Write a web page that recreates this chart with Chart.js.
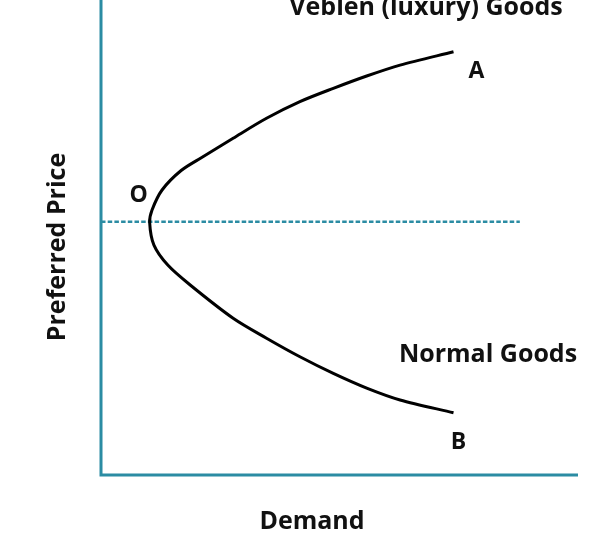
<!DOCTYPE html>
<html>
<head>
<meta charset="utf-8">
<script src="https://cdn.jsdelivr.net/npm/chart.js@4"></script>
<style>
  html, body { margin: 0; padding: 0; background: #fff; }
  #wrap { width: 600px; height: 536px; }
</style>
</head>
<body>
<div id="wrap"><canvas id="chart" width="600" height="536"></canvas></div>
<script>
/* Veblen vs normal goods: demand curve bending back at point O */

// curve from A (top) through O (vertex) down to B
const demandX = [7.39, 6.27, 5.57, 4.87, 4.17, 3.47, 2.77, 2.12, 1.68, 1.28, 1.07, 1.02,
                 1.11, 1.40, 1.87, 2.77, 3.47, 4.17, 4.87, 5.57, 6.27, 7.39];
const priceY  = [8.91, 8.63, 8.40, 8.14, 7.86, 7.51, 7.09, 6.69, 6.41, 6.00, 5.58, 5.32,
                 4.84, 4.42, 4.00, 3.30, 2.88, 2.49, 2.14, 1.83, 1.58, 1.31];

// reference price level through O
const refPrice = 5.33;
const refEndX = [0, 8.78];

const pointLabels = ['A', 'O', 'B'];
const regionLabels = ['Veblen (luxury) Goods', 'Normal Goods'];
const axisTitles = { x: 'Demand', y: 'Preferred Price' };

const colors = {
  axis:  '#2b8ca3',
  curve: '#000000',
  text:  '#111111'
};
const FONT = "bold 25px 'Open Sans', sans-serif";

const curveData = demandX.map((x, i) => ({ x, y: priceY[i] }));
const refData = refEndX.map(x => ({ x, y: refPrice }));
const vertexIdx = demandX.indexOf(Math.min(...demandX));

// axis lines + all the text labels
const decorPlugin = {
  id: 'decor',
  beforeDatasetsDraw(chart) {
    const { ctx, scales: { x, y } } = chart;
    const x0 = x.getPixelForValue(0);
    const y0 = y.getPixelForValue(0);
    ctx.save();
    ctx.strokeStyle = colors.axis;
    ctx.lineWidth = 3;
    ctx.beginPath();
    ctx.moveTo(x0, y.getPixelForValue(10));
    ctx.lineTo(x0, y0);
    ctx.lineTo(x.getPixelForValue(10), y0);
    ctx.stroke();
    ctx.restore();
  },
  afterDatasetsDraw(chart) {
    const { ctx, scales: { x, y } } = chart;
    const px = v => x.getPixelForValue(v);
    const py = v => y.getPixelForValue(v);
    ctx.save();
    ctx.fillStyle = colors.text;
    ctx.textAlign = 'center';
    ctx.textBaseline = 'middle';

    // point labels next to the curve ends and vertex
    const first = curveData[0];
    const last = curveData[curveData.length - 1];
    const vertex = curveData[vertexIdx];
    ctx.font = "bold 23px 'Open Sans', sans-serif";
    ctx.fillText(pointLabels[0], px(first.x) + 23, py(first.y) + 20);
    ctx.fillText(pointLabels[1], px(vertex.x) - 11, py(vertex.y) - 27);
    ctx.fillText(pointLabels[2], px(last.x) + 5, py(last.y) + 30);

    // region labels
    ctx.font = FONT;
    ctx.textBaseline = 'alphabetic';
    ctx.fillText(regionLabels[0], 426, 15);
    ctx.fillText(regionLabels[1], 488, 362);

    // axis titles
    ctx.fillText(axisTitles.x, 312, 529);
    ctx.translate(65, 247);
    ctx.rotate(-Math.PI / 2);
    ctx.fillText(axisTitles.y, 0, 0);
    ctx.restore();
  }
};

new Chart(document.getElementById('chart'), {
  type: 'scatter',
  data: {
    datasets: [
      {
        label: 'Demand curve',
        data: curveData,
        showLine: true,
        borderColor: colors.curve,
        borderWidth: 3,
        tension: 0.3,
        pointRadius: 0,
        fill: false
      },
      {
        label: 'Reference price',
        data: refData,
        showLine: true,
        borderColor: colors.axis,
        borderWidth: 2.5,
        borderDash: [4.5, 2.2],
        pointRadius: 0,
        fill: false
      }
    ]
  },
  options: {
    responsive: false,
    animation: false,
    layout: { padding: { left: 101, right: 22, top: 0, bottom: 61 } },
    plugins: {
      legend: { display: false },
      tooltip: { enabled: false }
    },
    scales: {
      x: { type: 'linear', min: 0, max: 10, display: false },
      y: { type: 'linear', min: 0, max: 10, display: false }
    }
  },
  plugins: [decorPlugin]
});
</script>
</body>
</html>
